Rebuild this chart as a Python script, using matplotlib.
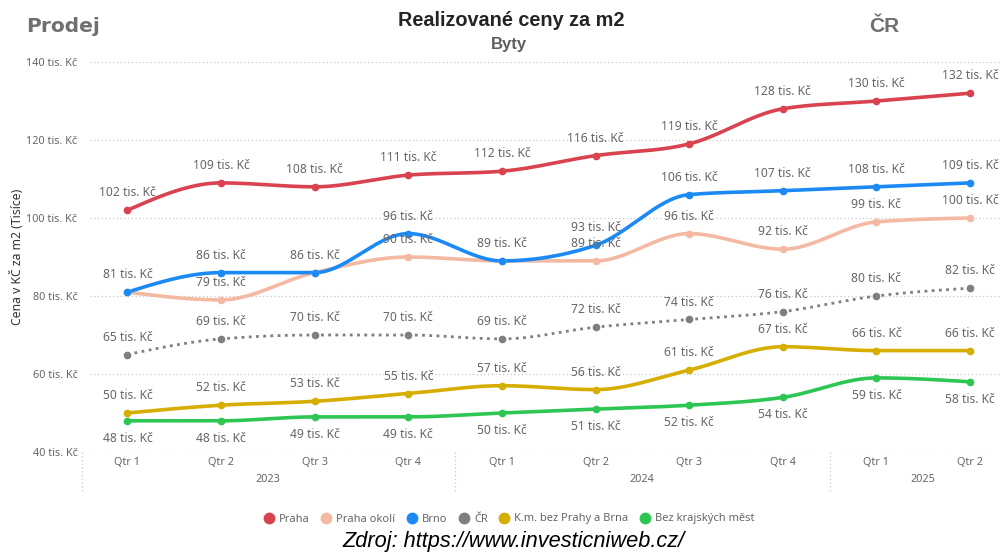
import numpy as np
import matplotlib
matplotlib.use("Agg")
import matplotlib.pyplot as plt
from matplotlib.lines import Line2D

quarters = ["Qtr 1", "Qtr 2", "Qtr 3", "Qtr 4", "Qtr 1", "Qtr 2", "Qtr 3", "Qtr 4", "Qtr 1", "Qtr 2"]
years = ["2023", "2024", "2025"]
year_spans = [(0, 3), (4, 7), (8, 9)]

praha = [102, 109, 108, 111, 112, 116, 119, 128, 130, 132]
praha_okoli = [81, 79, 86, 90, 89, 89, 96, 92, 99, 100]
brno = [81, 86, 86, 96, 89, 93, 106, 107, 108, 109]
cr = [65, 69, 70, 70, 69, 72, 74, 76, 80, 82]
km_bez = [50, 52, 53, 55, 57, 56, 61, 67, 66, 66]
bez_kraj = [48, 48, 49, 49, 50, 51, 52, 54, 59, 58]

# labels hidden in the reference because they overlap another series' label
hidden = {"Praha okolí": [0, 2, 4]}

series = [
    ("Praha", praha, "#D9434F", "-", "above"),
    ("Praha okolí", praha_okoli, "#F3B9A3", "-", "above"),
    ("Brno", brno, "#1C8AF5", "-", "above"),
    ("ČR", cr, "#7F7F7F", ":", "above"),
    ("K.m. bez Prahy a Brna", km_bez, "#D6AE00", "-", "above"),
    ("Bez krajských měst", bez_kraj, "#2DC653", "-", "below"),
]

FONT = "Noto Sans"


def monotone_path(x, y, n=30):
    x = np.asarray(x, float)
    y = np.asarray(y, float)
    h = np.diff(x)
    s = np.diff(y) / h
    m = np.zeros_like(y)
    for i in range(1, len(y) - 1):
        s0, s1 = s[i - 1], s[i]
        p = (s0 * h[i] + s1 * h[i - 1]) / (h[i - 1] + h[i])
        m[i] = (np.sign(s0) + np.sign(s1)) * min(abs(s0), abs(s1), 0.5 * abs(p))
    m[0] = (3 * s[0] - m[1]) / 2
    m[-1] = (3 * s[-1] - m[-2]) / 2
    xs, ys = [], []
    for i in range(len(h)):
        t = np.linspace(0, 1, n)
        h00 = 2 * t**3 - 3 * t**2 + 1
        h10 = t**3 - 2 * t**2 + t
        h01 = -2 * t**3 + 3 * t**2
        h11 = t**3 - t**2
        xs.append(x[i] + t * h[i])
        ys.append(h00 * y[i] + h10 * h[i] * m[i] + h01 * y[i + 1] + h11 * h[i] * m[i + 1])
    return np.concatenate(xs), np.concatenate(ys)


fig = plt.figure(figsize=(10.02, 5.54), dpi=100)
ax = fig.add_axes([90 / 1002, 1 - 452 / 554, 910 / 1002, (452 - 62) / 554])
ax.set_xlim(-0.4, 9.32)
ax.set_ylim(40, 140)

x = np.arange(len(quarters))
for name, vals, col, ls, pos in series:
    xs, ys = monotone_path(x, vals)
    if ls == ":":
        ax.plot(xs, ys, color=col, lw=2.0, linestyle=(0, (1, 1.6)), zorder=3)
    else:
        ax.plot(xs, ys, color=col, lw=2.6, solid_capstyle="round", zorder=3)
    ax.plot(x, vals, "o", color=col, ms=4.5, zorder=4)
    skip = hidden.get(name, [])
    for i, (xi, v) in enumerate(zip(x, vals)):
        if i in skip:
            continue
        off = 12.5 if pos == "above" else -12.5
        ax.annotate(f"{v} tis. Kč", (xi, v), xytext=(0, off), textcoords="offset points",
                    ha="center", va="center", fontsize=8.7, color="#666666",
                    family=FONT, zorder=5)

# gridlines
yt = [40, 60, 80, 100, 120, 140]
ax.set_yticks(yt)
ax.set_yticklabels([f"{v} tis. Kč" for v in yt], fontsize=7.8, color="#666666", family=FONT)
for v in yt:
    ax.axhline(v, color="#C8C8C8", lw=0.9, linestyle=(0, (1, 2)), zorder=1)
ax.tick_params(axis="y", length=0, pad=9)
ax.set_xticks([])
for sp in ax.spines.values():
    sp.set_visible(False)

ax.set_ylabel("Cena v KČ za m2 (Tisíce)", fontsize=8.8, color="#333333", family=FONT)
ax.yaxis.set_label_coords(-0.072, 0.5)

# category axis
trans = ax.get_xaxis_transform()
for xi, q in zip(x, quarters):
    ax.text(xi, -0.028, q, transform=trans, ha="center", va="center", fontsize=7.8,
            color="#666666", family=FONT)
for yr, (a, b) in zip(years, year_spans):
    ax.text((a + b) / 2, -0.07, yr, transform=trans, ha="center", va="center", fontsize=7.8,
            color="#666666", family=FONT)
for sx in [-0.49, 3.5, 7.5]:
    ax.plot([sx, sx], [0, -0.1], transform=trans, color="#C8C8C8", lw=0.9,
            linestyle=(0, (1, 2)), clip_on=False)

# titles
fig.text(511 / 1002, 1 - 21 / 554, "Realizované ceny za m2", ha="center", va="center",
         fontsize=14.3, fontweight="bold", color="#252423", family="Liberation Sans")
fig.text(509 / 1002, 1 - 44 / 554, "Byty", ha="center", va="center",
         fontsize=12, fontweight="bold", color="#605E5C", family="Liberation Sans")
fig.text(26 / 1002, 1 - 27 / 554, "Prodej", ha="left", va="center",
         fontsize=14.5, fontweight="bold", color="#707070", family="DejaVu Sans")
fig.text(884 / 1002, 1 - 27 / 554, "ČR", ha="center", va="center",
         fontsize=15, fontweight="bold", color="#707070", family="Liberation Sans")

# legend
handles = [Line2D([0], [0], marker="o", linestyle="none", markersize=7.5, color=c)
           for _, _, c, _, _ in series]
labels = [n for n, _, _, _, _ in series]
fig.legend(handles, labels, loc="center", bbox_to_anchor=(506 / 1002, 1 - 519 / 554),
           ncol=6, frameon=False, handletextpad=-0.1, columnspacing=0.5,
           prop={"family": FONT, "size": 8}, labelcolor="#666666")

fig.text(513 / 1002, 1 - 541 / 554, "Zdroj: https://www.investicniweb.cz/", ha="center",
         va="center", fontsize=15.7, style="italic", color="black", family="Liberation Sans")

fig.savefig("out.png", dpi=100)
